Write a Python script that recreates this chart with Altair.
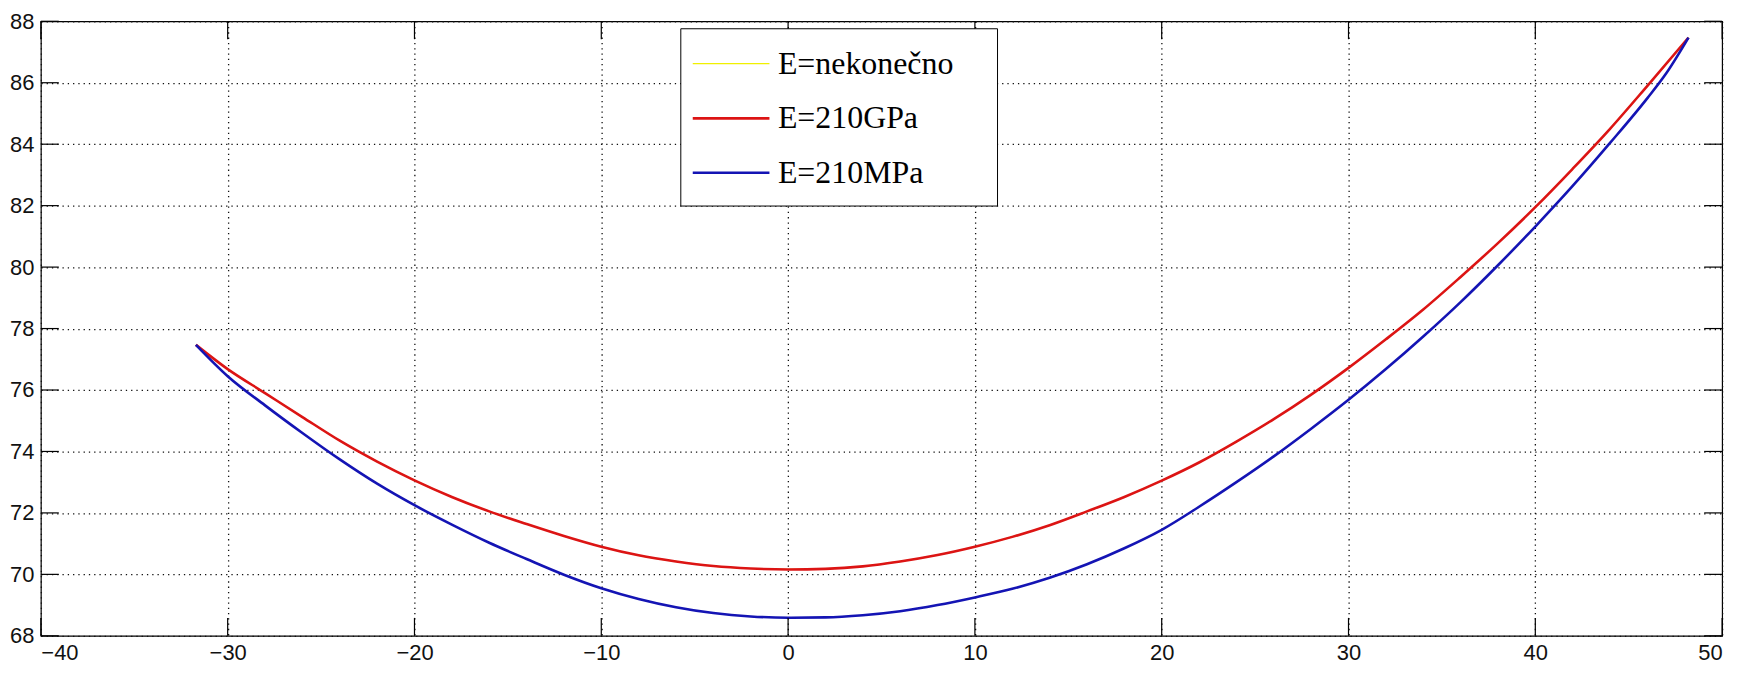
import altair as alt
import pandas as pd

series_names = ["E=nekonečno", "E=210GPa", "E=210MPa"]
series_colors = ["#f0f000", "#dc1414", "#1414b4"]
series_widths = [1.2, 2.6, 2.6]

red_x = [-31.7, -30, -28, -26, -24, -22, -20, -18, -16, -14, -12, -10, -8, -6, -4, -2, 0, 2, 4, 6, 8, 10, 12, 14, 16, 18, 20, 22, 24, 26, 28, 30, 32, 34, 36, 38, 40, 42, 44, 46, 48.2]
red_y = [77.47, 76.68, 75.9, 75.12, 74.35, 73.67, 73.06, 72.52, 72.05, 71.64, 71.25, 70.9, 70.62, 70.42, 70.27, 70.19, 70.16, 70.18, 70.26, 70.42, 70.63, 70.9, 71.22, 71.6, 72.05, 72.52, 73.05, 73.64, 74.32, 75.05, 75.85, 76.72, 77.65, 78.62, 79.68, 80.78, 81.95, 83.2, 84.5, 85.9, 87.47]

blue_x = [-31.7, -30, -28, -26, -24, -22, -20, -18, -16, -14, -12, -10, -8, -6, -4, -2, 0, 2, 4, 6, 8, 10, 12, 14, 16, 18, 20, 22, 24, 26, 28, 30, 32, 34, 36, 38, 40, 42, 44, 46, 47, 48.2]
blue_y = [77.47, 76.45, 75.5, 74.6, 73.74, 72.95, 72.25, 71.62, 71.03, 70.5, 69.99, 69.55, 69.2, 68.93, 68.74, 68.63, 68.59, 68.6, 68.67, 68.8, 69.0, 69.25, 69.53, 69.89, 70.33, 70.85, 71.45, 72.2, 73.0, 73.84, 74.74, 75.68, 76.68, 77.74, 78.86, 80.06, 81.32, 82.64, 84.04, 85.5, 86.3, 87.47]

yellow_x = red_x
yellow_y = red_y

x_ticks = [-40, -30, -20, -10, 0, 10, 20, 30, 40, 50]
y_ticks = [68, 70, 72, 74, 76, 78, 80, 82, 84, 86, 88]

rows = []
for name, xs_, ys_ in zip(series_names, [yellow_x, red_x, blue_x], [yellow_y, red_y, blue_y]):
    for i, (a, b) in enumerate(zip(xs_, ys_)):
        rows.append({"series": name, "x": a, "y": b, "i": i})
df = pd.DataFrame(rows)

W, H = 1688, 617
TL = 18

xs = alt.Scale(domain=[-40, 50], nice=False, zero=False)
ys = alt.Scale(domain=[68, 88], nice=False, zero=False)

x_axis = alt.Axis(values=x_ticks, format="d", title=None, labelPadding=7)
y_axis = alt.Axis(values=y_ticks, format="d", title=None, labelPadding=7)

color = alt.Color(
    "series:N",
    scale=alt.Scale(domain=series_names, range=series_colors),
    legend=alt.Legend(
        title="\u00a0",
        titleOrient="right",
        titleFontSize=10,
        titlePadding=27,
        orient="none",
        legendX=642,
        legendY=7,
        symbolType="M-2.2,0L2.2,0",
        symbolSize=1225,
        symbolOffset=15,
        labelFont="Liberation Serif",
        labelFontSize=32,
        labelColor="black",
        labelLimit=500,
        labelOffset=28,
        padding=17,
        rowPadding=19.5,
        strokeColor="black",
        fillColor="white",
        cornerRadius=0,
    ),
)
sw = alt.StrokeWidth(
    "series:N",
    scale=alt.Scale(type="ordinal", domain=series_names, range=series_widths),
)

base = alt.Chart(df).encode(
    x=alt.X("x:Q", scale=xs, axis=x_axis),
    y=alt.Y("y:Q", scale=ys, axis=y_axis),
    color=color,
    strokeWidth=sw,
    order="i:Q",
)

layers = []
for name in series_names:
    layers.append(
        base.transform_filter(alt.datum.series == name).mark_line(interpolate="monotone")
    )

xt = pd.DataFrame({"v": x_ticks})
yt = pd.DataFrame({"v": y_ticks})
bottom_ticks = alt.Chart(xt).mark_rule(color="black", strokeWidth=1.2).encode(
    x=alt.X("v:Q", scale=xs, axis=x_axis), y=alt.value(H), y2=alt.value(H - TL)
)
top_ticks = alt.Chart(xt).mark_rule(color="black", strokeWidth=1.2).encode(
    x=alt.X("v:Q", scale=xs, axis=x_axis), y=alt.value(0), y2=alt.value(TL)
)
left_ticks = alt.Chart(yt).mark_rule(color="black", strokeWidth=1.2).encode(
    y=alt.Y("v:Q", scale=ys, axis=y_axis), x=alt.value(0), x2=alt.value(TL)
)
right_ticks = alt.Chart(yt).mark_rule(color="black", strokeWidth=1.2).encode(
    y=alt.Y("v:Q", scale=ys, axis=y_axis), x=alt.value(W), x2=alt.value(W - TL)
)

chart = (
    alt.layer(*layers, bottom_ticks, top_ticks, left_ticks, right_ticks)
    .properties(
        width=W,
        height=H,
        autosize=alt.AutoSizeParams(type="none"),
        padding={"left": 33, "top": 12, "right": 30, "bottom": 37},
        background="white",
    )
    .configure_view(stroke="black", strokeWidth=1.2)
    .configure_axis(
        domain=False,
        ticks=False,
        grid=True,
        gridColor="#111",
        gridDash=[1.3, 4],
        gridWidth=1.3,
        labelFont="Liberation Sans",
        labelFontSize=22,
        labelColor="#111",
    )
)

chart.save("out.html", embed_options={"renderer": "svg", "actions": False})
